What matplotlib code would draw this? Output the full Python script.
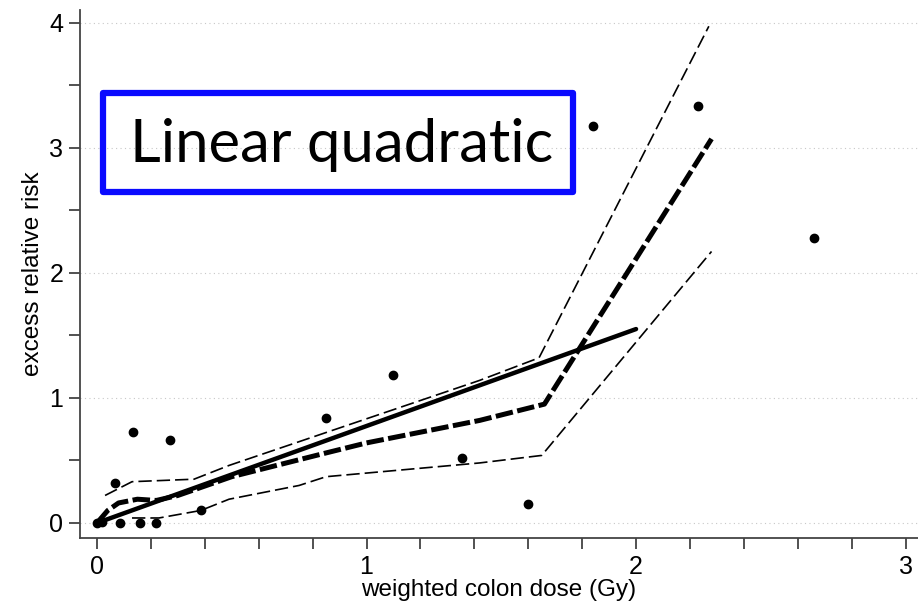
import matplotlib
matplotlib.use("Agg")
import matplotlib.pyplot as plt
import matplotlib.patches as patches
import numpy as np

# observed excess relative risk by dose category
dose_pts = [0.0, 0.02, 0.067, 0.085, 0.133, 0.16, 0.22, 0.27, 0.385,
            0.85, 1.10, 1.356, 1.60, 1.84, 2.23, 2.66]
err_pts = [0.0, 0.01, 0.32, 0.0, 0.73, 0.0, 0.0, 0.66, 0.10,
           0.84, 1.18, 0.52, 0.15, 3.17, 3.33, 2.28]

# linear fit
lin_x = [0.0, 2.0]
lin_y = [0.0, 1.55]

# smoothed dose response
smooth_x = [0.0, 0.04, 0.08, 0.15, 0.22, 0.3, 0.5, 0.85, 1.0, 1.42, 1.66, 2.28]
smooth_y = [0.0, 0.10, 0.16, 0.19, 0.18, 0.22, 0.37, 0.56, 0.64, 0.82, 0.95, 3.07]

# +/- 1 SE bands
upper_x = [0.03, 0.13, 0.36, 0.49, 0.75, 1.42, 1.64, 2.27]
upper_y = [0.22, 0.33, 0.35, 0.46, 0.65, 1.14, 1.32, 3.97]
lower_x = [0.13, 0.23, 0.385, 0.49, 0.75, 0.85, 1.42, 1.65, 2.28]
lower_y = [0.04, 0.04, 0.10, 0.19, 0.30, 0.37, 0.48, 0.54, 2.17]

label_font = ['Liberation Sans', 'DejaVu Sans']

fig = plt.figure(figsize=(9.18, 6.05), dpi=100)
ax = fig.add_axes([80/918, 1 - 538/605, 1 - 80/918, (538 - 10)/605])

for g in range(0, 5):
    ax.axhline(g, color='#c8c8c8', lw=0.8, ls=(0, (1, 3)), zorder=0)

ax.plot(upper_x, upper_y, color='black', lw=1.2, ls=(0, (8, 3)))
ax.plot(lower_x, lower_y, color='black', lw=1.2, ls=(0, (8, 3)))
ax.plot(smooth_x, smooth_y, color='black', lw=3.6, ls=(0, (3.5, 0.9)))
ax.plot(lin_x, lin_y, color='black', lw=3.2, solid_capstyle='round')
ax.plot(dose_pts, err_pts, 'o', color='black', ms=6)

ax.set_xlim(-0.063, 3.046)
ax.set_ylim(-0.12, 4.10)
ax.set_xticks(np.arange(0, 3.01, 0.2), minor=True)
ax.set_xticks([0, 1, 2, 3])
ax.set_yticks(np.arange(0, 4.01, 0.5), minor=True)
ax.set_yticks([0, 1, 2, 3, 4])
ax.tick_params(which='both', direction='out', length=8, width=1.2, color='#333333')
ax.tick_params(labelsize=18, pad=4)
for lab in ax.get_xticklabels() + ax.get_yticklabels():
    lab.set_family(label_font)

for s in ['top', 'right']:
    ax.spines[s].set_visible(False)
for s in ['left', 'bottom']:
    ax.spines[s].set_linewidth(1.3)
    ax.spines[s].set_color('#444444')

ax.set_xlabel('weighted colon dose (Gy)', fontsize=17.5, family=label_font, labelpad=0)
ax.set_ylabel('excess relative risk', fontsize=17.5, family=label_font, labelpad=4)

box = patches.Rectangle((103/918, 1 - 192/605), 470/918, 99/605,
                        transform=fig.transFigure, fill=False,
                        edgecolor='#0a0aff', lw=4.5, joinstyle='round')
fig.patches.append(box)
fig.text(342/918, 1 - 145/605, 'Linear quadratic', fontsize=43,
         family=['Lato', 'DejaVu Sans'], ha='center', va='center')

fig.savefig('out.png', dpi=100)
